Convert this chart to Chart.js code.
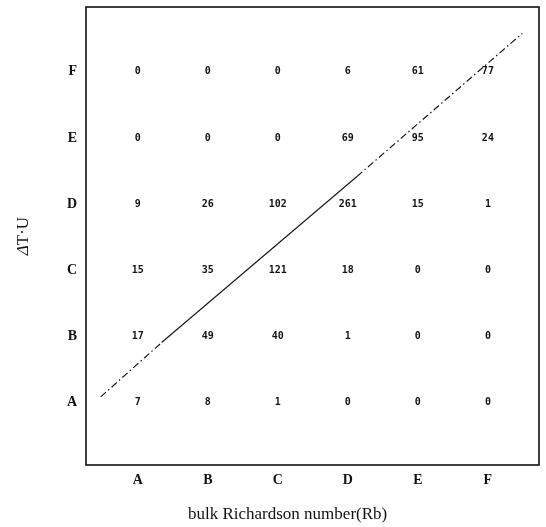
<!DOCTYPE html>
<html>
<head>
<meta charset="utf-8">
<script src="https://cdn.jsdelivr.net/npm/chart.js@4/dist/chart.umd.min.js"></script>
<style>
  html, body { margin: 0; padding: 0; background: #fff; }
  .widget { position: relative; width: 546px; height: 527px; }
</style>
</head>
<body>
<div class="widget"><canvas id="rbChart"></canvas></div>
<script>
// categories used on both axes
const categories = ['A', 'B', 'C', 'D', 'E', 'F'];

// counts per ΔT·U class (rows), ordered by Rb class A..F (columns)
const rowA = [7, 8, 1, 0, 0, 0];
const rowB = [17, 49, 40, 1, 0, 0];
const rowC = [15, 35, 121, 18, 0, 0];
const rowD = [9, 26, 102, 261, 15, 1];
const rowE = [0, 0, 0, 69, 95, 24];
const rowF = [0, 0, 0, 6, 61, 77];
const rows = [rowA, rowB, rowC, rowD, rowE, rowF];

// diagonal reference line (in category units)
const lineX = [-0.53, 0.34, 3.13, 5.49];
const lineY = [0.09, 0.91, 3.42, 5.58];

const xTitle = 'bulk Richardson number(Rb)';

// draws the frame, the counts and the axis titles
const tablePlugin = {
  id: 'tablePlugin',
  afterDraw(chart) {
    const { ctx, chartArea, scales } = chart;
    ctx.save();
    ctx.strokeStyle = '#111';
    ctx.lineWidth = 1.6;
    ctx.strokeRect(chartArea.left, chartArea.top, chartArea.right - chartArea.left, chartArea.bottom - chartArea.top);

    ctx.fillStyle = '#111';
    ctx.font = 'bold 10px "DejaVu Sans Mono"';
    ctx.textAlign = 'center';
    ctx.textBaseline = 'middle';
    rows.forEach((row, r) => {
      row.forEach((v, c) => {
        ctx.fillText(String(v), scales.x.getPixelForValue(c), scales.y.getPixelForValue(r));
      });
    });

    // x title
    ctx.font = '17px "Liberation Serif"';
    ctx.fillText(xTitle, chartArea.left + (chartArea.right - chartArea.left) * 0.445, chartArea.bottom + 50);

    // y title: italic delta then T·U, rotated
    const cy = (chartArea.top + chartArea.bottom) / 2;
    ctx.translate(24, cy);
    ctx.rotate(-Math.PI / 2);
    ctx.textAlign = 'left';
    ctx.font = 'italic 17px "Liberation Serif"';
    const d = ctx.measureText('Δ').width;
    ctx.font = '17px "Liberation Serif"';
    const rest = ctx.measureText('T·U').width;
    const start = -(d + rest) / 2;
    ctx.font = 'italic 17px "Liberation Serif"';
    ctx.fillText('Δ', start, 0);
    ctx.font = '17px "Liberation Serif"';
    ctx.fillText('T·U', start + d, 0);
    ctx.restore();
  },
};

const ctx = document.getElementById('rbChart').getContext('2d');
const dashDot = [7, 3, 1.5, 3];

new Chart(ctx, {
  type: 'scatter',
  data: {
    datasets: [
      {
        label: 'diagonal',
        data: lineX.map((x, i) => ({ x: x, y: lineY[i] })),
        showLine: true,
        pointRadius: 0,
        borderColor: '#1a1a1a',
        borderWidth: 1.2,
        segment: {
          borderDash: (c) => (c.p0DataIndex === 1 ? [] : dashDot),
        },
      },
    ],
  },
  options: {
    responsive: true,
    maintainAspectRatio: false,
    animation: false,
    layout: { padding: { left: 0, right: 7, top: 7, bottom: 0 } },
    plugins: {
      legend: { display: false },
      tooltip: { enabled: false },
    },
    scales: {
      x: {
        type: 'linear',
        min: -0.74,
        max: 5.73,
        grid: { display: false, drawTicks: false },
        border: { display: false },
        afterBuildTicks: (scale) => {
          scale.ticks = categories.map((_, i) => ({ value: i }));
        },
        afterFit: (scale) => {
          scale.height = 62;
          scale.paddingLeft = 0;
          scale.paddingRight = 0;
        },
        ticks: {
          padding: 7,
          color: '#111',
          font: { family: '"Liberation Serif"', size: 14, weight: 'bold' },
          maxRotation: 0,
          callback: (v) => categories[v] ?? '',
        },
      },
      y: {
        type: 'linear',
        min: -0.94,
        max: 5.98,
        grid: { display: false, drawTicks: false },
        border: { display: false },
        afterBuildTicks: (scale) => {
          scale.ticks = categories.map((_, i) => ({ value: i }));
        },
        afterFit: (scale) => {
          scale.width = 86;
          scale.paddingTop = 0;
          scale.paddingBottom = 0;
        },
        ticks: {
          padding: 9,
          color: '#111',
          font: { family: '"Liberation Serif"', size: 14, weight: 'bold' },
          callback: (v) => categories[v] ?? '',
        },
      },
    },
  },
  plugins: [tablePlugin],
});
</script>
</body>
</html>
